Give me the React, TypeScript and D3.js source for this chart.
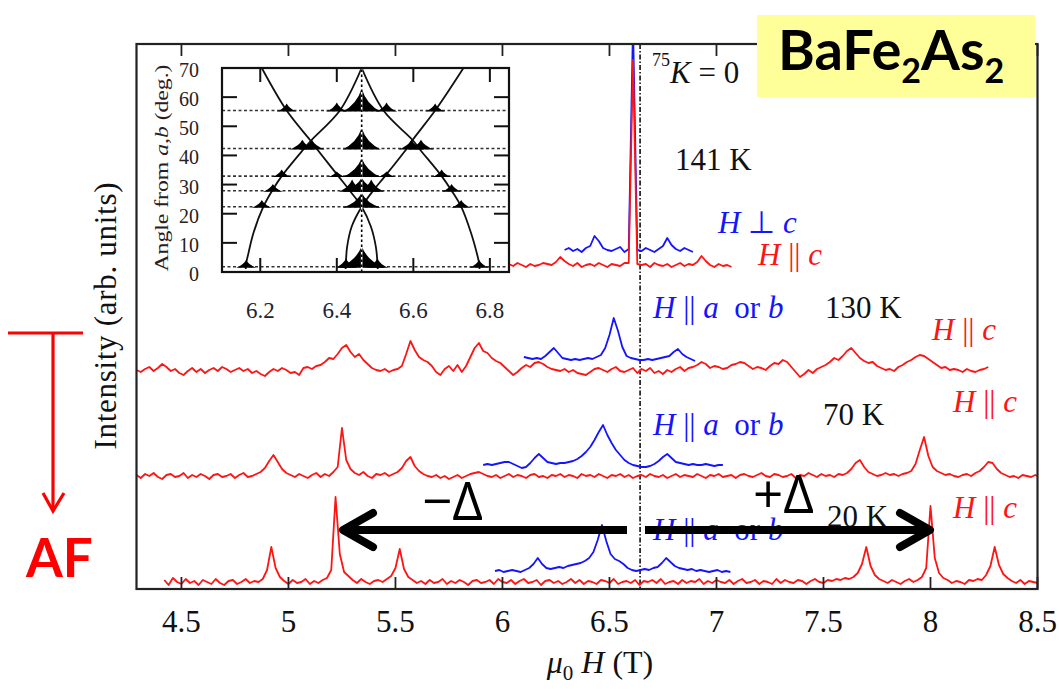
import React from 'react';
import * as d3 from 'd3';

// ---------- main axis ----------
const FIELD_STEP = 0.02; // T between successive points of every spectrum
const xTickValues = [4.5, 5, 5.5, 6, 6.5, 7, 7.5, 8, 8.5];
const xTickLabels = ['4.5', '5', '5.5', '6', '6.5', '7', '7.5', '8', '8.5'];
const zeroShiftField = 6.643; // K = 0 reference line (T)

// ---------- spectra (intensity, arb. units, relative to each offset) ----------
// 141 K
const red141KStart = 6.03;
const red141KOffset = 324;
const red141K = [
  1, -1, 2, 0, -2, 1, -1, 0, 2, 1,
  0, 3, 8, 4, 1, -1, 2, -2, 0, 1,
  -1, 2, 0, -2, 1, 0, -1, 2, 2, 205,
  1, 0, 1, -2, 2, 0, -1, 1, -2, 0,
  2, -1, 1, 0, 3, 9, 4, 0, -2, 1,
  -1, 0, -2,
];
const blue141KStart = 6.29;
const blue141KOffset = 339;
const blue141K = [
  0, 2, -1, 1, -2, 2, 4, 14, 9, 2,
  0, -1, 1, 3, -2, 1, 225, 0, -1, 2,
  0, -2, 1, 4, 12, 5, 1, -1, 2, 0,
  -2,
];

// 130 K
const red130KStart = 4.29;
const red130KOffset = 219;
const red130K = [
  0, -2, 1, 3, -1, 2, 6, 3, -1, 1,
  -3, -5, -1, 2, -2, 1, -3, 0, 2, -1,
  3, 1, -2, 0, 2, -1, 1, -3, -1, -4,
  -6, -2, 1, -1, 2, 0, -3, -2, -5, 2,
  3, 1, 4, 5, 8, 12, 11, 16, 22, 25,
  18, 13, 16, 10, 6, 2, 0, -1, 1, -2,
  0, 1, 4, 16, 29, 20, 13, 10, 8, 4,
  -2, -5, 1, 4, -1, 5, -2, 4, 13, 22,
  27, 19, 17, 12, 9, 7, 3, -1, -5, -2,
  2, 5, 3, 7, 8, 6, 3, 1, 0, -1,
  1, -2, 0, -3, -4, -5, -2, 1, 2, 0,
  -2, 1, 3, -1, -2, 0, 2, -3, 1, -1,
  2, -3, -1, -4, 0, -2, 1, 3, -1, 2,
  3, 5, 8, 6, 2, 4, 3, 1, 2, 5,
  6, 8, 7, 4, 1, 3, 2, 0, 4, 7,
  6, 10, 8, 3, -2, -7, -4, 0, -3, 1,
  3, 5, 8, 12, 10, 14, 19, 22, 17, 12,
  9, 7, 8, 4, 2, 0, 1, -1, 3, 5,
  8, 10, 13, 15, 14, 11, 8, 5, 2, 3,
  0, 1, 0, -2, 1, -1, -2, 0, 1, 3,
];
const blue130KStart = 6.10;
const blue130KOffset = 230;
const blue130K = [
  2, 1, 0, 1, 0, 3, 7, 11, 6, 1,
  0, -1, 0, -1, 0, 1, 0, 2, 4, 11,
  24, 41, 28, 12, 3, 1, 0, -1, -1, 0,
  -1, 0, 1, 2, 3, 7, 10, 5, 2, 0,
  -2,
];

// 70 K
const red70KStart = 4.29;
const red70KOffset = 113;
const red70K = [
  1, -2, 2, 0, 3, -1, -3, 1, 2, -1,
  0, 3, -2, 1, -1, 2, 0, -3, 1, 2,
  -1, 0, 2, -2, 1, 3, -1, 0, 2, 4,
  8, 15, 21, 14, 7, 3, 1, -1, 2, 0,
  -2, 1, 3, -1, 2, 0, 4, 9, 48, 16,
  7, 3, 1, 4, 0, -2, 2, 1, 3, 0,
  2, 4, 8, 15, 19, 10, 5, 2, 0, -1,
  1, -2, 0, -3, -1, 1, -2, 0, 2, 3,
  4, 2, 0, -1, 1, -2, 0, 2, -1, 1,
  0, -2, 1, 2, -1, 0, -2, 1, 0, 2,
  -1, 1, 0, -2, 2, 0, 1, -1, 2, 0,
  -2, 1, 0, 2, -1, 1, -2, 0, 1, -1,
  2, 0, -1, 1, -2, 0, 2, -1, 1, 0,
  -1, 2, 0, -2, 1, 0, 2, -1, 0, 1,
  -2, 1, 2, 0, -1, 1, 3, 0, -1, 2,
  1, -1, 0, 2, -2, 1, 0, 3, 1, -1,
  2, 0, 1, -1, 2, 1, 3, 7, 13, 16,
  9, 4, 2, 0, 1, 3, 1, 2, 0, 2,
  3, 5, 12, 26, 39, 20, 9, 5, 3, 1,
  2, 0, -1, 1, 2, 0, 3, 5, 9, 14,
  13, 7, 3, 1, -1, 0, -2, 1, 0, -1,
  1, -1,
];
const blue70KStart = 5.91;
const blue70KOffset = 124;
const blue70K = [
  0, 1, 0, 1, 2, 3, 3, 1, -1, -3,
  -2, 2, 7, 11, 7, 3, 2, 1, 2, 2,
  3, 4, 6, 9, 13, 18, 25, 33, 40, 30,
  22, 15, 10, 5, 2, 0, -1, -2, -2, -1,
  1, 4, 8, 11, 7, 3, 2, 1, 0, 1,
  0, 0, 1, 0, -1, 0, 0,
];

// 20 K
const red20KStart = 4.42;
const red20KOffset = 7;
const red20K = [
  2, -3, 4, 0, -2, 3, -1, 1, -3, 2,
  0, -2, 3, -1, -3, 1, 2, -2, 0, 3,
  -1, 1, 0, 3, 12, 35, 14, 5, 1, -2,
  2, -1, 0, 3, -2, 1, -1, 2, 4, 12,
  85, 28, 10, 6, 2, -1, 3, 0, -2, 1,
  2, 0, 3, 6, 14, 33, 13, 5, 2, -1,
  1, -2, 2, -1, 0, 3, -2, 1, -1, 2,
  0, -3, 1, 2, -1, 0, 2, -2, 3, 0,
  -1, 2, -2, 1, 3, -1, 0, 2, -3, 1,
  2, -1, 1, -2, 0, 3, -1, 2, -2, 1,
  0, -2, 2, 1, -1, 3, -2, 0, 1, -1,
  2, -3, 1, 0, 2, -1, 3, -2, 0, 1,
  -2, 2, -1, 1, 0, 3, -2, 1, -1, 2,
  0, -1, 2, -2, 1, 3, -1, 0, 2, -2,
  1, 0, -2, 3, -1, 2, 0, -1, 2, 1,
  -2, 1, 3, 0, -1, 2, 1, 3, 2, 4,
  3, 5, 9, 18, 35, 16, 7, 3, 1, -1,
  2, 0, -2, 1, 3, 0, 2, 5, 14, 76,
  24, 9, 4, 2, -1, 1, 0, -2, 2, 1,
  3, 2, 7, 16, 35, 17, 8, 4, 1, -1,
  2, -2, 1, 0, -1,
];
const blue20KStart = 5.965;
const blue20KOffset = 18;
const blue20K = [
  0, 1, -1, 0, 1, 0, -1, 1, 3, 7,
  13, 7, 3, 2, 3, 4, 3, 5, 6, 7,
  8, 10, 13, 19, 31, 46, 30, 17, 12, 10,
  7, 3, 1, 0, 1, 2, 1, 3, 4, 8,
  13, 9, 5, 3, 2, 1, 2, 0, 1, 0,
  -1, 0, 1, -1, 0, -1,
];

// ---------- inset: angle dependence ----------
const insetTicksX = [6.2, 6.4, 6.6, 6.8];
const insetTicksY = [0, 10, 20, 30, 40, 50, 60, 70];
const insetCenterField = 6.465;
const insetRowAngles = [55.4, 42.4, 32.9, 27.9, 22.4, 1.8];
// [field T, angle deg]
const insetCurveA = [[6.204, 70], [6.269, 55.4], [6.330, 45.3], [6.347, 42.4], [6.404, 32.9], [6.434, 27.9], [6.465, 22.4], [6.489, 15.6], [6.502, 8.7], [6.506, 3.6], [6.507, 1.0]];
const insetCurveB = [[6.731, 70], [6.657, 55.4], [6.598, 45.3], [6.583, 42.4], [6.526, 32.9], [6.495, 27.9], [6.465, 22.4], [6.439, 15.6], [6.427, 8.7], [6.424, 3.6], [6.423, 1.0]];
const insetCurveC = [[6.465, 70], [6.408, 55.4], [6.334, 45.3], [6.315, 42.4], [6.256, 32.9], [6.231, 27.9], [6.208, 22.4], [6.182, 13.3], [6.169, 6.4], [6.163, 2.9], [6.162, 1.0]];
const insetCurveD = [[6.465, 70], [6.522, 55.4], [6.598, 45.3], [6.615, 42.4], [6.674, 32.9], [6.700, 27.9], [6.725, 22.4], [6.751, 13.3], [6.766, 6.4], [6.772, 2.9], [6.773, 1.0]];
// [angle, field, height (deg), half width (T)]
const insetPeaks = [
  [55.4, 6.269, 2.4, 0.026], [55.4, 6.40, 2.8, 0.028], [55.4, 6.465, 7.6, 0.05], [55.4, 6.53, 2.8, 0.028], [55.4, 6.657, 2.4, 0.026],
  [42.4, 6.31, 3.0, 0.034], [42.4, 6.335, 3.0, 0.034], [42.4, 6.465, 7.0, 0.05], [42.4, 6.595, 3.0, 0.034], [42.4, 6.62, 3.0, 0.034],
  [32.9, 6.256, 2.3, 0.026], [32.9, 6.40, 1.6, 0.024], [32.9, 6.465, 6.2, 0.05], [32.9, 6.53, 1.6, 0.024], [32.9, 6.674, 2.3, 0.026],
  [27.9, 6.233, 2.3, 0.026], [27.9, 6.44, 3.8, 0.034], [27.9, 6.465, 4.4, 0.05], [27.9, 6.49, 3.8, 0.034], [27.9, 6.70, 2.3, 0.026],
  [22.4, 6.204, 2.3, 0.026], [22.4, 6.465, 4.8, 0.05], [22.4, 6.725, 2.3, 0.026],
  [1.8, 6.163, 2.3, 0.026], [1.8, 6.424, 2.8, 0.028], [1.8, 6.465, 7.0, 0.06], [1.8, 6.506, 2.8, 0.028], [1.8, 6.772, 2.3, 0.026],
];

const RED = '#ff1414';
const BLUE = '#1414ff';
const SERIF = "'Liberation Serif', 'Times New Roman', serif";

const spectra = [
  { start: red130KStart, offset: red130KOffset, values: red130K, color: RED },
  { start: red70KStart, offset: red70KOffset, values: red70K, color: RED },
  { start: red20KStart, offset: red20KOffset, values: red20K, color: RED },
  { start: blue141KStart, offset: blue141KOffset, values: blue141K, color: BLUE },
  { start: red141KStart, offset: red141KOffset, values: red141K, color: RED },
  { start: blue130KStart, offset: blue130KOffset, values: blue130K, color: BLUE },
  { start: blue70KStart, offset: blue70KOffset, values: blue70K, color: BLUE },
  { start: blue20KStart, offset: blue20KOffset, values: blue20K, color: BLUE },
];

function HParC({ x, y, color }: { x: number; y: number; color: string }) {
  return (
    <text x={x} y={y} fill={color} fontSize={31} fontFamily={SERIF}>
      <tspan fontStyle="italic">H</tspan>
      <tspan>{'\u00a0||\u00a0'}</tspan>
      <tspan fontStyle="italic">c</tspan>
    </text>
  );
}

function HParAB({ x, y }: { x: number; y: number }) {
  return (
    <text x={x} y={y} fill={BLUE} fontSize={31} fontFamily={SERIF}>
      <tspan fontStyle="italic">H</tspan>
      <tspan>{'\u00a0||\u00a0'}</tspan>
      <tspan fontStyle="italic">a</tspan>
      <tspan>{'\u00a0\u00a0or\u00a0'}</tspan>
      <tspan fontStyle="italic">b</tspan>
    </text>
  );
}

export default function App() {
  const plotLeft = 136.5, plotRight = 1037.5, plotTop = 44, plotBottom = 589;
  const x = d3.scaleLinear().domain([4.29, 8.5]).range([plotLeft, plotRight]);
  const y = d3.scaleLinear().domain([0, 545]).range([plotBottom, plotTop]);

  const specPath = (s: { start: number; offset: number; values: number[] }) =>
    d3.line<number>()
      .x((_, i) => x(s.start + i * FIELD_STEP))
      .y((v) => y(s.offset + v))(s.values) || '';

  // inset scales
  const iLeft = 222, iRight = 509, iTop = 68, iBottom = 272;
  const ix = d3.scaleLinear().domain([6.1, 6.85]).range([iLeft, iRight]);
  const iy = d3.scaleLinear().domain([0, 70]).range([iBottom, iTop]);
  const curveGen = d3.line<number[]>().x((d) => ix(d[0])).y((d) => iy(d[1])).curve(d3.curveCatmullRom.alpha(0.5));
  const blobPath = (p: number[]) => {
    const [a, f, h, w] = p;
    const x0 = ix(f), y0 = iy(a), top = iy(a + h), xl = ix(f - w), xr = ix(f + w);
    const cy = y0 - (y0 - top) * 0.28;
    return `M${xl},${y0 + 1} Q${x0 - (x0 - xl) * 0.25},${cy} ${x0},${top} Q${x0 + (xr - x0) * 0.25},${cy} ${xr},${y0 + 1} Z`;
  };

  return (
    <svg width={1059} height={689} style={{ position: 'absolute', left: 0, top: 0, background: '#fff' }}>
      <defs>
        <clipPath id="plotClip">
          <rect x={plotLeft} y={plotTop} width={plotRight - plotLeft} height={plotBottom - plotTop} />
        </clipPath>
        <clipPath id="insetClip">
          <rect x={iLeft} y={iTop} width={iRight - iLeft} height={iBottom - iTop} />
        </clipPath>
      </defs>
      <rect x={0} y={0} width={1059} height={689} fill="#fff" />

      {/* K = 0 line */}
      <line x1={x(zeroShiftField)} x2={x(zeroShiftField)} y1={plotTop} y2={plotBottom} stroke="#111" strokeWidth={1.6} strokeDasharray="5,2,1.5,2" />

      {/* spectra */}
      <g clipPath="url(#plotClip)" fill="none" strokeLinejoin="round">
        {spectra.map((s, i) => (
          <path key={i} d={specPath(s)} stroke={s.color} strokeWidth={1.8} />
        ))}
      </g>

      {/* frame and ticks */}
      <rect x={plotLeft} y={plotTop} width={plotRight - plotLeft} height={plotBottom - plotTop} fill="none" stroke="#222" strokeWidth={2.2} />
      {xTickValues.map((t, i) => (
        <g key={i}>
          <line x1={x(t)} x2={x(t)} y1={plotBottom} y2={plotBottom - 12} stroke="#222" strokeWidth={1.8} />
          <line x1={x(t)} x2={x(t)} y1={plotTop} y2={plotTop + 12} stroke="#222" strokeWidth={1.8} />
          <text x={x(t)} y={632} textAnchor="middle" fontSize={31} fontFamily={SERIF} fill="#111">{xTickLabels[i]}</text>
        </g>
      ))}
      <text x={600} y={673} textAnchor="middle" fontSize={32} fontFamily={SERIF} fill="#111">
        <tspan fontStyle="italic">μ</tspan>
        <tspan fontSize={21} dy={7}>0</tspan>
        <tspan dy={-7} fontStyle="italic">{'\u00a0H'}</tspan>
        <tspan>{'\u00a0(T)'}</tspan>
      </text>
      <text transform="translate(116,316) rotate(-90)" textAnchor="middle" fontSize={31} fontFamily={SERIF} fill="#111" textLength={267} lengthAdjust="spacing">
        Intensity (arb. units)
      </text>

      {/* inset */}
      <g>
        <rect x={iLeft} y={iTop} width={iRight - iLeft} height={iBottom - iTop} fill="#fff" />
        <g clipPath="url(#insetClip)">
          {insetRowAngles.map((a, i) => (
            <line key={i} x1={iLeft} x2={iRight} y1={iy(a)} y2={iy(a)} stroke="#333" strokeWidth={1.6} strokeDasharray="3,2.5" />
          ))}
          {[insetCurveA, insetCurveB, insetCurveC, insetCurveD].map((c, i) => (
            <path key={i} d={curveGen(c) || ''} fill="none" stroke="#111" strokeWidth={1.8} />
          ))}
          {insetPeaks.map((p, i) => (
            <path key={i} d={blobPath(p)} fill="#000" />
          ))}
          <line x1={ix(insetCenterField)} x2={ix(insetCenterField)} y1={iy(0)} y2={iy(70)} stroke="#fff" strokeWidth={1.6} />
          <line x1={ix(insetCenterField)} x2={ix(insetCenterField)} y1={iy(0)} y2={iy(70)} stroke="#000" strokeWidth={1.6} strokeDasharray="2.5,2.5" />
        </g>
        <rect x={iLeft} y={iTop} width={iRight - iLeft} height={iBottom - iTop} fill="none" stroke="#111" strokeWidth={2.2} />
        {insetTicksX.map((t, i) => (
          <g key={i}>
            <line x1={ix(t)} x2={ix(t)} y1={iBottom} y2={iBottom - 14} stroke="#111" strokeWidth={2} />
            <line x1={ix(t)} x2={ix(t)} y1={iTop} y2={iTop + 14} stroke="#111" strokeWidth={2} />
            <text x={ix(t)} y={318} textAnchor="middle" fontSize={23} fontFamily={SERIF} fill="#1d2233">{t.toFixed(1)}</text>
          </g>
        ))}
        {insetTicksY.map((t, i) => (
          <g key={i}>
            <line x1={iLeft} x2={iLeft + 15} y1={iy(t)} y2={iy(t)} stroke="#111" strokeWidth={2} />
            <line x1={iRight} x2={iRight - 15} y1={iy(t)} y2={iy(t)} stroke="#111" strokeWidth={2} />
            <text x={199} y={iy(t) + 9} textAnchor="end" fontSize={20} fontFamily={SERIF} fill="#2a2020">{t}</text>
          </g>
        ))}
        <text transform="translate(168,168) rotate(-90)" textAnchor="middle" fontSize={19} fontFamily={SERIF} fill="#2a2020" textLength={207} lengthAdjust="spacingAndGlyphs">
          Angle from <tspan fontStyle="italic">a</tspan>,<tspan fontStyle="italic">b</tspan> (deg.)
        </text>
      </g>

      {/* labels */}
      <text x={652} y={83} fontSize={31} fontFamily={SERIF} fill="#111">
        <tspan fontSize={18} dy={-17}>75</tspan>
        <tspan dy={17} fontStyle="italic">K</tspan>
        <tspan>{'\u00a0=\u00a00'}</tspan>
      </text>
      <text x={675} y={170} fontSize={31} fontFamily={SERIF} fill="#111">141 K</text>
      <text x={718} y={233} fontSize={31} fontFamily={SERIF} fill={BLUE}>
        <tspan fontStyle="italic">H</tspan>
        <tspan>{'\u00a0⊥\u00a0'}</tspan>
        <tspan fontStyle="italic">c</tspan>
      </text>
      <HParC x={758} y={265} color={RED} />

      <HParAB x={653} y={318} />
      <text x={825} y={318} fontSize={31} fontFamily={SERIF} fill="#111">130 K</text>
      <HParC x={932} y={340} color={RED} />

      <HParAB x={653} y={435} />
      <text x={823} y={425} fontSize={31} fontFamily={SERIF} fill="#111">70 K</text>
      <HParC x={953} y={412} color={RED} />

      <HParAB x={653} y={540} />
      <text x={827} y={527} fontSize={31} fontFamily={SERIF} fill="#111">20 K</text>
      <HParC x={953} y={518} color={RED} />

      {/* compound box */}
      <rect x={757} y={15} width={278} height={82} fill="#ffff99" />
      <text x={778} y={70} fontSize={56} fontWeight={700} fontFamily="Lato, 'Open Sans', sans-serif" fill="#000">
        BaFe<tspan fontSize={34} dy={13}>2</tspan><tspan dy={-13}>As</tspan><tspan fontSize={34} dy={13}>2</tspan>
      </text>

      {/* Δ arrows */}
      <g stroke="#000" strokeWidth={8} fill="none" strokeLinecap="round" strokeLinejoin="round">
        <line x1={346} x2={627} y1={530} y2={530} strokeLinecap="butt" />
        <polyline points="373,513 343,530 373,547" />
        <line x1={645} x2={926} y1={530} y2={530} strokeLinecap="butt" />
        <polyline points="900,513 930,530 900,547" />
      </g>
      <text x={422} y={520} fontSize={53} fontFamily="'Open Sans', 'DejaVu Sans', sans-serif" fill="#000">−Δ</text>
      <text x={753} y={513} fontSize={53} fontFamily="'Open Sans', 'DejaVu Sans', sans-serif" fill="#000">+Δ</text>

      {/* AF annotation */}
      <g stroke="#ff0000" fill="none" strokeWidth={3.2}>
        <line x1={8} x2={83} y1={333} y2={333} />
        <line x1={53} x2={53} y1={333} y2={511} />
        <polyline points="43,493 53,511 64,493" strokeLinejoin="miter" />
      </g>
      <text x={26} y={577} fontSize={53} fontWeight={700} fontFamily="Lato, 'Open Sans', sans-serif" fill="#ff0000">AF</text>
    </svg>
  );
}
